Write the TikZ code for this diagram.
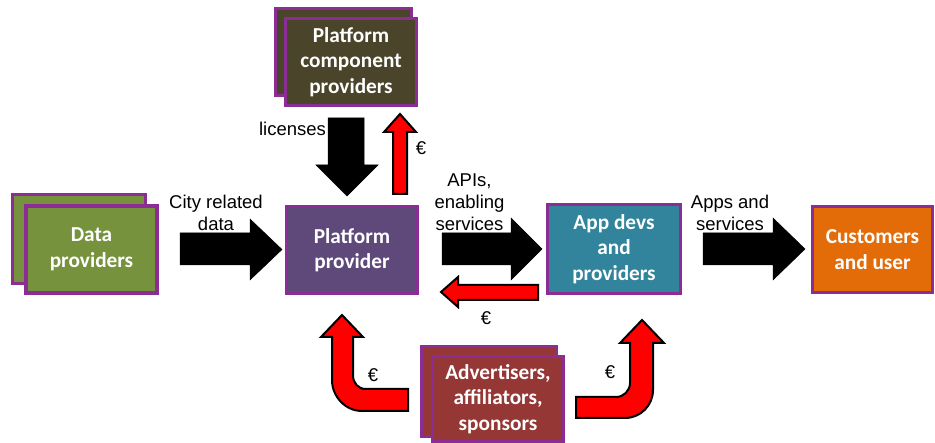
\documentclass[tikz,border=0pt]{standalone}
\usepackage{fontspec}
\setmainfont{Liberation Sans}
\newfontfamily\boxfont{Carlito}
\definecolor{boxborder}{RGB}{140,45,150}
\definecolor{cdata}{HTML}{76923C}
\definecolor{ccomp}{HTML}{4A452A}
\definecolor{cplat}{HTML}{5F497A}
\definecolor{capp}{HTML}{31849B}
\definecolor{ccust}{HTML}{E36C09}
\definecolor{cadv}{HTML}{953735}
\begin{document}
\begin{tikzpicture}[x=1pt,y=-1pt]
\tikzset{
  box/.style={draw=boxborder, line width=3.2pt, text=white, align=center, inner sep=0pt,
    font=\boxfont\bfseries\fontsize{21.3}{25.5}\selectfont},
  lbl/.style={font=\fontsize{18.5}{22}\selectfont, align=center, inner sep=0pt},
  blockblack/.style={fill=black, draw=black, line width=0.5pt, line join=miter},
  blockred/.style={fill=red, draw=black, line width=2pt, line join=miter},
}
\useasboundingbox (0,0) rectangle (935,443);

% boxes
\node[box, fill=cdata, minimum width=133pt, minimum height=89pt] (dpback) at (79,239) {};
\node[box, fill=cdata, minimum width=131pt, minimum height=87pt] (dp) at (91.5,249.5) {Data\\providers};

\node[box, fill=ccomp, minimum width=136pt, minimum height=87pt] (pcback) at (343.5,52) {};
\node[box, fill=ccomp, minimum width=131pt, minimum height=87pt] (pc) at (351,62) {Platform\\component\\providers};

\node[box, fill=cplat, minimum width=131pt, minimum height=87pt] (pp) at (352,250) {Platform\\provider};

\node[box, fill=capp, minimum width=133pt, minimum height=89pt] (ad) at (614,249) {App devs\\and\\providers};

\node[box, fill=ccust, minimum width=120pt, minimum height=86pt] (cu) at (872.5,249.5) {Customers\\and user};

\node[box, fill=cadv, minimum width=135pt, minimum height=90pt] (advback) at (489,391.5) {};
\node[box, fill=cadv, minimum width=131pt, minimum height=85pt] (adv) at (498,399) {Advertisers,\\affiliators,\\sponsors};

% black block arrows
\filldraw[blockblack] (180,233) -- (250,233) -- (250,219) -- (282,249.5) -- (250,280) -- (250,265) -- (180,265) -- cycle;
\filldraw[blockblack] (442,233) -- (511,233) -- (511,218) -- (542,249) -- (511,280) -- (511,265) -- (442,265) -- cycle;
\filldraw[blockblack] (703,233) -- (773,233) -- (773,218) -- (805,249) -- (773,280) -- (773,265) -- (703,265) -- cycle;
\filldraw[blockblack] (328,118) -- (364,118) -- (364,165) -- (378,165) -- (347,196) -- (316,165) -- (328,165) -- cycle;

% red block arrows
\filldraw[blockred] (393,194) -- (393,132) -- (384,132) -- (400,114) -- (416,132) -- (407,132) -- (407,194) -- cycle;
\filldraw[blockred] (538,285) -- (458,285) -- (458,277) -- (441,292) -- (458,307) -- (458,300) -- (538,300) -- cycle;
\filldraw[blockred] (408,389) -- (366,389) .. controls (358.3,389) and (353,383.3) .. (353,375)
  -- (353,337) -- (363,337) -- (342,315) -- (321,337) -- (332,337) -- (332,380)
  .. controls (332,396.6) and (345.4,411) .. (362,411) -- (408,411) -- cycle;
\filldraw[blockred] (576,397) -- (616,397) .. controls (623.7,397) and (630,390.7) .. (630,383)
  -- (630,343) -- (620,343) -- (642,320) -- (664,343) -- (653,343) -- (653,390)
  .. controls (653,405.5) and (640.5,418) .. (625,418) -- (576,418) -- cycle;

% labels
\node[lbl] (l1) at (216,213) {City related\\data};
\node[lbl] (l2) at (469.5,202.5) {APIs,\\enabling\\services};
\node[lbl] (l3) at (730,213) {Apps and\\services};
\node[lbl] (l4) at (292.5,129) {licenses};
\node[lbl] (e1) at (421,148) {€};
\node[lbl] (e2) at (486,318) {€};
\node[lbl] (e3) at (373,375) {€};
\node[lbl] (e4) at (610,372) {€};
\end{tikzpicture}
\end{document}
